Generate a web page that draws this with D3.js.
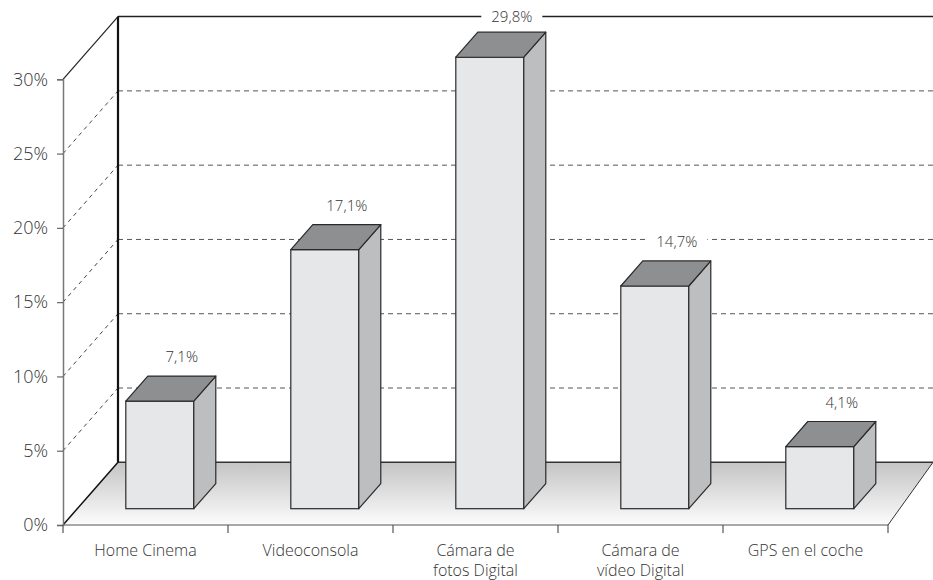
<!DOCTYPE html>
<html>
<head>
<meta charset="utf-8">
<script src="https://cdn.jsdelivr.net/npm/d3@7"></script>
<style>
  html, body { margin: 0; padding: 0; background: #fff; }
  svg { display: block; font-family: "Open Sans", "Noto Sans", sans-serif; font-weight: 300; }
</style>
</head>
<body>
<svg id="chart" width="933" height="580"></svg>
<script>
// ---- data ----
const categories = ["Home Cinema", "Videoconsola", "Cámara de\nfotos Digital", "Cámara de\nvídeo Digital", "GPS en el coche"];
const values = [7.1, 17.1, 29.8, 14.7, 4.1];
const valueLabels = ["7,1%", "17,1%", "29,8%", "14,7%", "4,1%"];
const yTicks = [0, 5, 10, 15, 20, 25, 30];
const yTickLabels = ["0%", "5%", "10%", "15%", "20%", "25%", "30%"];

// ---- layout ----
const svg = d3.select("#chart");
const X0 = 63, X1 = 888;          // front floor edge
const YF0 = 525, YF30 = 79.3;      // front plane y for 0% and 30%
const DX = 55, DY = -62.7;         // depth vector (front -> back wall)
const RIGHT = 933;
const TOPY = YF30 + DY;            // top edge of back wall

const x = d3.scaleBand().domain(categories).range([X0, X1]).paddingInner(0).paddingOuter(0);
const y = d3.scaleLinear().domain([0, 30]).range([YF0, YF30]);
const barH = d3.scaleLinear().domain([0, 30]).range([0, 454.5]);

const D0 = 0.26, D1 = 0.66;        // bar front/back depth
const barW = x.bandwidth() * 0.412;
const ddx = DX * (D1 - D0), ddy = DY * (D1 - D0);

// ---- floor with gradient ----
const defs = svg.append("defs");
const grad = defs.append("linearGradient").attr("id", "floorGrad")
  .attr("x1", 0).attr("y1", 0).attr("x2", 0).attr("y2", 1);
grad.append("stop").attr("offset", "0%").attr("stop-color", "#c4c4c4");
grad.append("stop").attr("offset", "100%").attr("stop-color", "#fcfcfc");

svg.append("polygon")
  .attr("points", [[X0, YF0], [X0 + DX, YF0 + DY], [RIGHT, YF0 + DY], [X1, YF0]].map(p => p.join(",")).join(" "))
  .attr("fill", "url(#floorGrad)");

// floor edges
svg.append("line").attr("x1", X0 + DX).attr("y1", YF0 + DY).attr("x2", RIGHT).attr("y2", YF0 + DY)
  .attr("stroke", "#333").attr("stroke-width", 1.5);
svg.append("line").attr("x1", X0).attr("y1", YF0).attr("x2", X0 + DX).attr("y2", YF0 + DY)
  .attr("stroke", "#111").attr("stroke-width", 1.5);
svg.append("line").attr("x1", X1).attr("y1", YF0).attr("x2", RIGHT).attr("y2", YF0 + DY)
  .attr("stroke", "#333").attr("stroke-width", 1);
svg.append("line").attr("x1", X0).attr("y1", YF0).attr("x2", X1).attr("y2", YF0)
  .attr("stroke", "#555").attr("stroke-width", 1.2);

// ---- gridlines ----
const gridTicks = yTicks.filter(t => t > 0 && t < 30);
const grid = svg.append("g").attr("class", "grid");
gridTicks.forEach(t => {
  grid.append("line")
    .attr("x1", X0).attr("y1", y(t)).attr("x2", X0 + DX).attr("y2", y(t) + DY)
    .attr("stroke", "#444").attr("stroke-width", 1).attr("stroke-dasharray", "4,4");
  grid.append("line")
    .attr("x1", X0 + DX).attr("y1", y(t) + DY).attr("x2", RIGHT).attr("y2", y(t) + DY)
    .attr("stroke", "#555").attr("stroke-width", 1).attr("stroke-dasharray", "5,4");
});

// ---- back wall frame ----
svg.append("line").attr("x1", X0 + DX).attr("y1", TOPY).attr("x2", RIGHT).attr("y2", TOPY)
  .attr("stroke", "#222").attr("stroke-width", 1.5);
svg.append("line").attr("x1", X0).attr("y1", y(30)).attr("x2", X0 + DX).attr("y2", TOPY)
  .attr("stroke", "#222").attr("stroke-width", 1.2);
svg.append("line").attr("x1", X0 + DX).attr("y1", TOPY).attr("x2", X0 + DX).attr("y2", YF0 + DY)
  .attr("stroke", "#111").attr("stroke-width", 2.2);

// ---- y axis (front) ----
const yAxis = d3.axisLeft(y).tickValues(yTicks).tickSize(6).tickPadding(9)
  .tickFormat((d, i) => yTickLabels[i]);
const gy = svg.append("g").attr("transform", `translate(${X0},0)`).call(yAxis);
gy.select(".domain").attr("stroke", "#777").attr("stroke-width", 1.5);
gy.selectAll(".tick line").attr("stroke", "#666").attr("stroke-width", 1.2);
gy.selectAll(".tick text").attr("fill", "#333").style("font-size", "18px")
  .style("font-family", "'Open Sans', 'Noto Sans', sans-serif").style("font-weight", 300);

// ---- category ticks and labels ----
const boundaries = categories.map(c => x(c)).concat([x(categories[categories.length - 1]) + x.bandwidth()]);
svg.append("g").selectAll("line").data(boundaries).join("line")
  .attr("x1", d => d).attr("x2", d => d).attr("y1", YF0).attr("y2", YF0 + 8)
  .attr("stroke", "#555").attr("stroke-width", 1.2);

const labG = svg.append("g");
categories.forEach(c => {
  const lines = c.split("\n");
  lines.forEach((l, i) => {
    labG.append("text")
      .attr("x", x(c) + x.bandwidth() / 2)
      .attr("y", 556 + i * 20)
      .attr("text-anchor", "middle")
      .attr("fill", "#333")
      .style("font-size", "16px")
      .text(l);
  });
});

// ---- bars ----
const bars = svg.append("g");
categories.forEach((c, i) => {
  const v = values[i];
  const fx = x(c) + x.bandwidth() / 2 - barW / 2 + DX * D0;
  const fb = YF0 + DY * D0;
  const ft = fb - barH(v);
  const g = bars.append("g");
  // front
  g.append("rect").attr("x", fx).attr("y", ft).attr("width", barW).attr("height", fb - ft)
    .attr("fill", "#e6e7e9").attr("stroke", "#2a2a2a").attr("stroke-width", 1.2);
  // side
  g.append("polygon")
    .attr("points", [[fx + barW, ft], [fx + barW + ddx, ft + ddy], [fx + barW + ddx, fb + ddy], [fx + barW, fb]].map(p => p.join(",")).join(" "))
    .attr("fill", "#bdbec0").attr("stroke", "#2a2a2a").attr("stroke-width", 1.2).attr("stroke-linejoin", "round");
  // top
  g.append("polygon")
    .attr("points", [[fx, ft], [fx + barW, ft], [fx + barW + ddx, ft + ddy], [fx + ddx, ft + ddy]].map(p => p.join(",")).join(" "))
    .attr("fill", "#8e8f91").attr("stroke", "#2a2a2a").attr("stroke-width", 1.2).attr("stroke-linejoin", "round");

  // value label with white box
  const lx = fx + barW / 2 + ddx;
  const ly = Math.max(ft + ddy - 19, TOPY);
  const txt = g.append("text").attr("x", lx).attr("y", ly).attr("dy", "0.35em")
    .attr("text-anchor", "middle").attr("fill", "#333").style("font-size", "15px")
    .text(valueLabels[i]);
  const bb = txt.node().getBBox();
  g.insert("rect", "text").attr("x", bb.x - 10).attr("y", bb.y - 1).attr("width", bb.width + 20).attr("height", bb.height + 2)
    .attr("fill", "#fff");
});
</script>
</body>
</html>
